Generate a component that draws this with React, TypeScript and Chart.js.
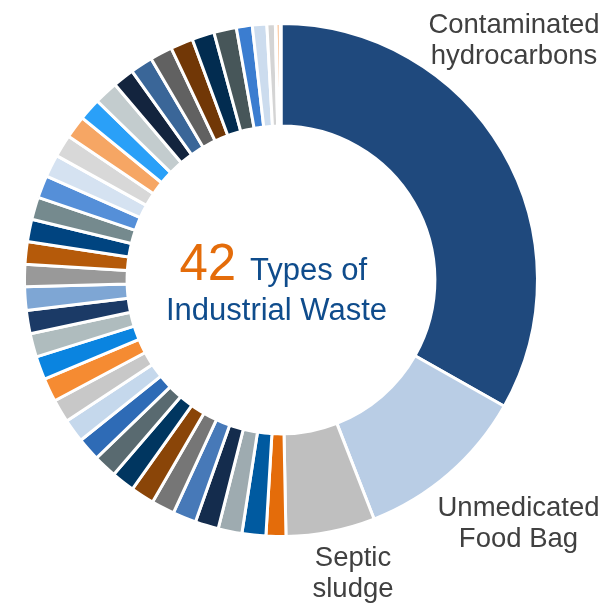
import React, { useEffect, useRef } from "react";
import { Chart, registerables } from "chart.js";

Chart.register(...registerables);

const namedTypes = ["Contaminated hydrocarbons", "Unmedicated Food Bag", "Septic sludge"];
const otherTypes = Array.from({ length: 39 }, (_, i) => `Waste type ${i + 4}`);
const wasteTypes = [...namedTypes, ...otherTypes];

// share of each waste type (%), clockwise from the top
const wasteShares = [
  33.2, 10.9, 5.6,
  1.25, 1.5, 1.5, 1.47,
  1.48, 1.46, 1.49, 1.47, 1.48, 1.47, 1.48, 1.46, 1.49, 1.47, 1.48, 1.47, 1.48,
  1.39,
  1.42, 1.41, 1.42, 1.41, 1.42, 1.41, 1.42, 1.41, 1.5, 1.34, 1.42, 1.41, 1.42, 1.41, 1.42,
  1.0, 0.91, 0.53, 0.05, 0.25, 0.05,
];

const sliceColors = [
  "#1f497d", "#b9cde5", "#bfbfbf",
  "#e46c0a", "#005aa0", "#9eabb0", "#142c4d", "#4779b8", "#767676", "#8a4508",
  "#003660", "#596a70", "#2e6bb6", "#c5d8ec", "#c8c8c8", "#f58b32", "#0a84e0",
  "#afbcbe", "#1b3a66", "#7ea6d4", "#999999", "#b55a0a", "#004480", "#758a8e",
  "#558fd8", "#d5e2f1", "#d8d8d8", "#f6a664", "#2aa0f8", "#c3ccce", "#13243e",
  "#3a6698", "#616161", "#713706", "#022c50", "#475659", "#3b7dd0", "#ccdcee",
  "#d4d4d4", "#eeeeee", "#f7a460", "#e8e8e8",
];

const totalTypes = "42";
const centerLine1 = "Types of";
const centerLine2 = "Industrial Waste";

const outsideLabels = [
  { lines: ["Contaminated", "hydrocarbons"], x: 514, y: 33 },
  { lines: ["Unmedicated", "Food Bag"], x: 518.5, y: 515.5 },
  { lines: ["Septic", "sludge"], x: 353, y: 565.5 },
];

const FONT = '"Liberation Sans", Arial, Helvetica, sans-serif';

const textPlugin = {
  id: "wasteText",
  afterDraw(chart: any) {
    const ctx = chart.ctx as CanvasRenderingContext2D;
    ctx.save();
    ctx.textBaseline = "alphabetic";
    // outside labels
    ctx.fillStyle = "#404040";
    ctx.font = `27.5px ${FONT}`;
    ctx.textAlign = "center";
    for (const lbl of outsideLabels) {
      lbl.lines.forEach((t, i) => ctx.fillText(t, lbl.x, lbl.y + i * 31));
    }
    // center text
    ctx.textAlign = "left";
    ctx.fillStyle = "#e46c0a";
    ctx.font = `51px ${FONT}`;
    ctx.fillText(totalTypes, 179.5, 280);
    ctx.fillStyle = "#0f4c8c";
    ctx.font = `31px ${FONT}`;
    ctx.fillText(centerLine1, 250, 280);
    ctx.textAlign = "center";
    ctx.fillText(centerLine2, 276.5, 320);
    ctx.restore();
  },
};

export default function App() {
  const canvasRef = useRef<HTMLCanvasElement | null>(null);

  useEffect(() => {
    if (!canvasRef.current) return;
    const chart = new Chart(canvasRef.current, {
      type: "doughnut",
      data: {
        labels: wasteTypes,
        datasets: [
          {
            data: wasteShares,
            backgroundColor: sliceColors,
            borderColor: "#ffffff",
            borderWidth: 3,
          },
        ],
      },
      options: {
        responsive: false,
        animation: false,
        devicePixelRatio: 1,
        cutout: "60%",
        layout: { padding: { left: 23, top: 22, right: 68, bottom: 66 } },
        plugins: {
          legend: { display: false },
          tooltip: { enabled: false },
          title: { display: false },
        },
      },
      plugins: [textPlugin],
    });
    return () => chart.destroy();
  }, []);

  return (
    <div style={{ position: "fixed", left: 0, top: 0, width: 607, height: 604, background: "#ffffff" }}>
      <canvas ref={canvasRef} width={607} height={604} />
    </div>
  );
}
